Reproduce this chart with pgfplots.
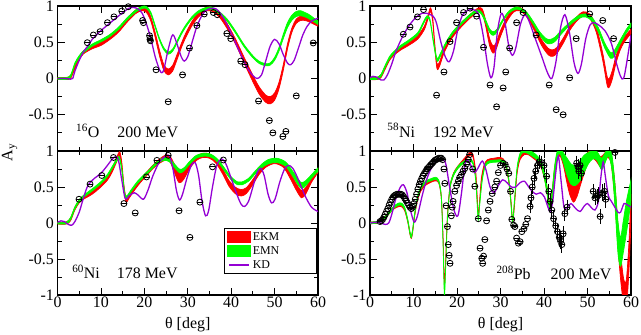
\documentclass[border=0pt]{standalone}
\usepackage{fontspec}
\setmainfont{Liberation Serif}
\usepackage{pgfplots}
\usepackage{pgfplotstable}
\pgfplotsset{compat=1.18}
\usepgfplotslibrary{fillbetween}

\definecolor{kdviolet}{rgb}{0.58,0,0.83}
\definecolor{ekmred}{rgb}{1,0,0}
\definecolor{emngreen}{rgb}{0,1,0}

% circle with a bar through it, like the grace symbols
\pgfdeclareplotmark{ominus}{%
  \pgfpathcircle{\pgfpointorigin}{\pgfplotmarksize}%
  \pgfusepathqstroke
  \pgfpathmoveto{\pgfpoint{-\pgfplotmarksize}{0pt}}%
  \pgfpathlineto{\pgfpoint{\pgfplotmarksize}{0pt}}%
  \pgfusepathqstroke}

\tikzset{lbl/.style={anchor=base west, font=\fontsize{16}{18}\selectfont}}

\pgfplotsset{
  panel/.style={scale only axis, width=261bp, height=145bp,
    xmin=0, xmax=60, ymin=-1, ymax=1,
    xtick={0,10,...,60}, minor xtick={5,15,...,55},
    ytick={-1,-0.5,0,0.5,1}, minor ytick={-0.75,-0.25,0.25,0.75},
    tick align=inside, tick pos=both,
    major tick length=7bp, minor tick length=4bp,
    axis line style={line width=1.2bp},
    every tick/.append style={line width=0.8bp, black},
    tick label style={font=\fontsize{16}{18}\selectfont},
    xticklabel style={inner sep=1.5bp}, yticklabel style={inner sep=3.5bp},
    /pgf/number format/assume math mode=true},
  kd/.style={kdviolet, line width=1.3bp, smooth},
  pts/.style={only marks, mark=ominus, mark size=3bp,
    mark options={line width=0.8bp, black}},
}

\newcommand{\band}[3]{%
  \addplot[draw=none, smooth, name path=#3u, forget plot]
    table[x=x, y expr=\thisrow{c}+\thisrow{w}] {#1};
  \addplot[draw=none, smooth, name path=#3l, forget plot]
    table[x=x, y expr=\thisrow{c}-\thisrow{w}] {#1};
  \addplot[fill=#2, draw=#2, line width=0.7bp,
    legend image code/.code={\fill[#2] (0bp,-5.5bp) rectangle (23bp,5.5bp);}]
    fill between[of=#3u and #3l];
}

% ---------- 16O ----------
\pgfplotstableread{
x c w
0 0 0.015
2 0 0.015
3 0.02 0.02
4 0.15 0.02
5 0.28 0.02
6 0.36 0.02
8 0.43 0.02
10 0.48 0.025
12 0.56 0.025
14 0.66 0.025
16 0.8 0.025
18 0.92 0.025
19.5 0.96 0.025
20.5 0.94 0.03
21.5 0.82 0.03
22.5 0.6 0.035
23.5 0.35 0.04
24.5 0.15 0.04
25.5 0.09 0.04
26.5 0.14 0.04
27.5 0.29 0.035
28.5 0.45 0.03
29.5 0.59 0.03
31 0.76 0.03
32.5 0.88 0.03
34 0.95 0.025
35 0.96 0.025
36 0.94 0.025
37.5 0.86 0.03
39 0.73 0.035
41 0.51 0.035
43 0.25 0.04
45 0.0 0.045
46.5 -0.17 0.05
48 -0.28 0.05
49 -0.3 0.05
50 -0.25 0.05
51 -0.1 0.045
52 0.15 0.04
53 0.45 0.035
54 0.67 0.03
55 0.79 0.03
56 0.83 0.03
57 0.83 0.03
58 0.81 0.03
59 0.78 0.03
60 0.75 0.03
}\oRed
\pgfplotstableread{
x c w
0 0 0.012
2 0 0.012
3 0.03 0.015
4 0.2 0.015
5 0.3 0.015
6 0.37 0.015
8 0.46 0.015
10 0.52 0.015
12 0.59 0.015
14 0.69 0.015
16 0.82 0.015
18 0.93 0.015
19.5 0.98 0.015
20.5 0.98 0.015
21.5 0.9 0.015
22.5 0.72 0.015
23.5 0.54 0.015
24.5 0.41 0.015
25.5 0.35 0.015
26.5 0.39 0.015
27.5 0.5 0.015
28.5 0.62 0.015
29.5 0.72 0.015
31 0.84 0.015
32.5 0.92 0.015
34 0.96 0.015
35.5 0.97 0.015
37 0.92 0.015
39 0.81 0.015
41 0.64 0.015
43 0.45 0.015
45 0.3 0.015
46.5 0.22 0.015
48 0.19 0.015
49 0.2 0.015
50 0.27 0.02
51 0.4 0.025
52 0.58 0.03
53 0.74 0.035
54 0.84 0.035
55 0.89 0.035
56 0.9 0.035
57 0.88 0.03
58 0.85 0.03
59 0.81 0.025
60 0.77 0.025
}\oGreen
\pgfplotstableread{
x y
0 0
2 0
3 -0.01
3.5 0
4 0.1
5 0.25
6 0.37
7 0.45
8 0.54
10 0.66
12 0.76
14 0.86
15.5 0.93
16.5 0.97
17.5 0.98
18.5 0.96
19.5 0.9
20.5 0.75
21.5 0.55
22.5 0.3
23.5 0.12
24 0.08
24.5 0.12
25.3 0.35
26.3 0.58
26.8 0.59
27.5 0.48
28.5 0.3
29.2 0.24
30 0.3
31 0.5
32 0.7
33 0.84
34 0.93
35.5 0.97
36.5 0.96
37.5 0.9
39 0.75
40.5 0.56
42 0.36
43.5 0.17
45 0.04
46 0.0
47 0.05
48 0.25
49 0.45
50 0.54
51 0.48
52 0.33
53 0.21
53.7 0.19
54.5 0.25
55.5 0.42
56.5 0.6
57.5 0.72
58.5 0.79
59.5 0.82
60 0.83
}\oKD
\pgfplotstableread{
x y
6.87 0.494
8.26 0.60
9.8 0.646
11.5 0.77
13.0 0.85
14.8 0.93
16.3 0.99
19.6 0.80
19.8 0.77
21.2 0.59
21.3 0.54
21.4 0.52
22.7 0.12
25.5 -0.32
28.8 0.05
30.4 0.42
32.1 0.73
33.8 0.89
35.9 0.91
36.8 0.88
39.0 0.62
39.9 0.55
42.2 0.24
43.2 0.19
46.3 -0.31
48.8 -0.58
49.6 -0.75
51.9 -0.80
52.6 -0.73
55.0 -0.24
58.9 0.49
}\oExp

% ---------- 58Ni ----------
\pgfplotstableread{
x c w
0 0 0.015
1.5 0 0.015
2.5 0.03 0.02
3.5 0.15 0.02
4.5 0.27 0.02
5.5 0.34 0.02
7 0.41 0.02
9 0.48 0.02
11 0.57 0.025
12.5 0.7 0.025
13.3 0.84 0.025
13.9 0.95 0.025
14.4 0.82 0.03
14.9 0.45 0.03
15.4 0.17 0.035
16 0.2 0.03
17 0.38 0.03
18.5 0.55 0.025
20 0.67 0.025
22 0.8 0.025
24 0.91 0.025
25 0.95 0.025
25.8 0.93 0.03
26.6 0.76 0.04
27.5 0.5 0.05
28.3 0.4 0.05
29 0.45 0.045
30 0.62 0.04
31.5 0.82 0.03
33 0.94 0.025
34 0.96 0.025
35 0.94 0.025
36.5 0.84 0.03
38 0.67 0.035
39.5 0.49 0.04
41 0.37 0.045
42 0.35 0.045
43 0.39 0.04
44.5 0.53 0.035
46 0.7 0.03
47.5 0.82 0.03
49 0.89 0.03
50.5 0.86 0.03
52 0.68 0.04
53.5 0.3 0.05
54.5 -0.03 0.06
55 -0.06 0.06
55.7 0.05 0.06
56.5 0.25 0.05
57.5 0.43 0.04
58.5 0.54 0.035
60 0.65 0.03
}\nRed
\pgfplotstableread{
x c w
0 0 0.012
1.5 0 0.012
2.5 0.04 0.015
3.5 0.17 0.015
4.5 0.29 0.015
5.5 0.36 0.015
7 0.44 0.015
9 0.52 0.015
11 0.62 0.015
12.3 0.77 0.015
13.1 0.85 0.015
13.8 0.8 0.015
14.6 0.5 0.02
15.4 0.26 0.02
16.2 0.33 0.02
17.5 0.49 0.015
19 0.63 0.015
21 0.76 0.015
23 0.87 0.015
24.5 0.93 0.015
25.5 0.91 0.015
26.5 0.8 0.02
27.5 0.66 0.025
28.3 0.62 0.025
29.2 0.66 0.02
30.5 0.8 0.015
32 0.92 0.015
33.5 0.97 0.015
34.5 0.96 0.015
36 0.9 0.015
37.5 0.77 0.02
39 0.62 0.025
40.5 0.52 0.03
41.5 0.51 0.03
42.5 0.54 0.03
44 0.64 0.025
46 0.76 0.02
48 0.85 0.02
49.5 0.87 0.02
51 0.82 0.025
52.5 0.67 0.03
54 0.45 0.035
55.3 0.32 0.04
56.2 0.35 0.04
57.5 0.5 0.03
59 0.66 0.025
60 0.74 0.025
}\nGreen
\pgfplotstableread{
x y
0 0.01
0.7 0.03
1.5 0.02
2.5 -0.02
3.2 -0.02
4 0.05
5 0.2
6 0.38
7.5 0.58
9 0.73
10.5 0.84
12 0.9
13 0.9
14.5 0.86
15.3 0.76
16.3 0.5
17.3 0.3
18.2 0.23
19.2 0.38
20.2 0.68
21.3 0.88
22.5 0.94
23.8 0.95
25 0.88
26 0.6
27 0.2
27.8 0.01
28.5 0.15
29.3 0.65
30.2 0.9
31 0.78
31.9 0.45
32.7 0.32
33.5 0.42
34.6 0.75
35.6 0.88
36.5 0.8
38 0.55
39.5 0.3
40.8 0.08
41.8 0.0
42.8 0.25
43.8 0.7
44.8 0.88
45.8 0.65
46.9 0.22
47.8 0.07
48.6 0.2
49.6 0.55
50.6 0.74
51.5 0.77
52.5 0.74
54 0.66
55.5 0.48
56.7 0.2
57.6 0.03
58.3 0.0
59.1 0.25
60 0.6
}\nKD
\pgfplotstableread{
x y
7.66 0.61
9.2 0.71
10.9 0.85
12.3 0.95
15.3 -0.23
17.0 0.09
18.4 0.51
19.9 0.77
21.5 0.91
23.0 0.97
24.5 0.86
26.1 0.43
27.6 -0.09
29.1 -0.39
30.6 -0.13
31.2 0.09
32.1 0.42
33.7 0.77
35.2 0.91
38.2 0.60
41.2 -0.09
42.8 -0.43
44.4 -0.50
45.9 0.01
47.4 0.55
50.5 0.89
53.5 0.80
56.0 0.55
}\nExp

% ---------- 60Ni ----------
\pgfplotstableread{
x c w
0 0 0.015
2 0 0.015
3 0.05 0.02
4 0.2 0.02
5 0.3 0.02
6 0.35 0.02
8 0.42 0.02
10 0.52 0.02
11.5 0.62 0.025
12.5 0.72 0.025
13.5 0.86 0.03
14.3 0.96 0.03
14.8 0.82 0.03
15.3 0.5 0.03
15.8 0.32 0.03
16.4 0.36 0.025
17.5 0.46 0.025
19 0.58 0.025
20.5 0.68 0.025
22 0.78 0.025
23.5 0.86 0.03
25 0.91 0.035
26 0.88 0.04
27 0.75 0.06
28 0.63 0.07
29 0.66 0.06
30.5 0.8 0.04
32 0.9 0.03
33.5 0.94 0.03
35 0.93 0.03
36.5 0.86 0.03
38 0.72 0.035
39.5 0.55 0.04
41 0.45 0.045
42.3 0.42 0.045
43.5 0.45 0.04
45 0.57 0.035
46.5 0.71 0.03
48 0.81 0.035
50 0.86 0.035
52 0.81 0.035
53.5 0.67 0.04
55 0.5 0.045
56.2 0.4 0.05
57.2 0.45 0.045
58.5 0.6 0.035
60 0.73 0.03
}\mRed
\pgfplotstableread{
x c w
0 0 0.012
2 0 0.012
3 0.06 0.015
4 0.21 0.015
5 0.31 0.015
6 0.37 0.015
8 0.46 0.015
10 0.56 0.015
11.5 0.66 0.015
12.5 0.76 0.015
13.5 0.86 0.015
14.2 0.91 0.015
14.8 0.75 0.02
15.5 0.4 0.02
16 0.36 0.02
17 0.45 0.015
18.5 0.57 0.015
20 0.66 0.015
21.5 0.75 0.015
23 0.84 0.015
24.5 0.89 0.02
25.8 0.87 0.02
27 0.79 0.025
28.2 0.72 0.025
29.2 0.75 0.02
30.5 0.84 0.02
32 0.92 0.02
34 0.95 0.02
35.5 0.93 0.02
37 0.86 0.02
38.5 0.74 0.02
40 0.62 0.02
41.5 0.55 0.02
42.5 0.55 0.02
44 0.6 0.02
45.5 0.7 0.02
47 0.79 0.025
48.5 0.85 0.03
50.5 0.87 0.03
52.5 0.82 0.03
54 0.7 0.035
55.5 0.56 0.04
56.3 0.52 0.04
57.3 0.56 0.035
58.7 0.66 0.025
60 0.74 0.025
}\mGreen
\pgfplotstableread{
x y
0 0.01
0.8 0.03
1.6 0.02
2.5 -0.02
3.3 -0.03
4 0.02
5 0.15
6 0.35
7 0.52
8.5 0.62
10 0.69
11.5 0.8
12.5 0.88
13.3 0.92
14 0.88
14.8 0.6
15.6 0.34
16.5 0.38
17.7 0.42
18.7 0.38
19.8 0.33
20.8 0.45
22 0.66
23.5 0.85
25 0.93
25.8 0.93
26.6 0.75
27.4 0.45
28.1 0.32
28.8 0.4
29.8 0.62
30.8 0.8
31.7 0.84
32.5 0.66
33.3 0.3
34.1 0.1
34.8 0.17
35.7 0.5
36.7 0.8
37.8 0.89
38.8 0.82
40 0.62
41.3 0.4
42.3 0.26
43.1 0.23
44 0.3
45 0.5
46 0.7
46.8 0.76
47.6 0.66
48.5 0.4
49.3 0.28
50.1 0.33
51.2 0.57
52.3 0.75
53.2 0.8
54.2 0.76
55.5 0.6
57 0.38
58.5 0.22
60 0.16
}\mKD
\pgfplotstableread{
x y
4.95 0.33
7.5 0.54
10.2 0.66
12.9 0.91
15.3 0.27
17.9 0.14
20.5 0.64
22.9 0.87
25.5 0.94
28.0 0.17
30.5 -0.20
32.8 0.29
35.7 0.78
38.2 0.875
}\mExp

% ---------- 208Pb ----------
\pgfplotstableread{
x c w
0 0 0.012
1.5 0.01 0.012
2.5 0.03 0.015
3.5 0.08 0.015
4.5 0.15 0.015
5.5 0.21 0.015
6.5 0.24 0.015
7.3 0.24 0.015
8 0.18 0.015
8.7 0.02 0.015
9.2 -0.15 0.015
9.5 -0.2 0.015
9.8 -0.12 0.015
10.3 0.12 0.015
11 0.35 0.015
11.8 0.47 0.015
12.8 0.54 0.015
14 0.58 0.015
15 0.6 0.015
15.8 0.57 0.015
16.4 0.35 0.015
16.8 -0.2 0.015
17.1 -0.85 0.015
17.4 -0.5 0.015
17.8 0.1 0.015
18.4 0.5 0.015
19.2 0.68 0.015
20 0.76 0.015
21 0.83 0.02
22 0.9 0.02
23 0.96 0.02
23.7 0.93 0.02
24.3 0.7 0.02
24.6 0.4 0.02
24.9 0.1 0.02
25.2 0.3 0.02
25.6 0.6 0.02
26.2 0.78 0.02
27 0.86 0.02
28.5 0.88 0.02
30 0.89 0.02
31 0.84 0.02
31.8 0.63 0.02
32.4 0.3 0.02
32.8 0.03 0.02
33.2 0.25 0.02
33.8 0.7 0.02
34.5 0.9 0.02
35.5 0.97 0.02
36.5 0.97 0.025
37.5 0.93 0.03
38.5 0.88 0.03
39.5 0.78 0.035
40.3 0.6 0.04
40.9 0.38 0.05
41.4 0.22 0.05
41.8 0.35 0.05
42.4 0.7 0.05
43 0.92 0.04
43.7 0.97 0.04
44.5 0.85 0.06
45.3 0.65 0.1
46 0.5 0.12
46.8 0.42 0.13
47.6 0.5 0.13
48.4 0.65 0.12
49.3 0.8 0.1
50.2 0.92 0.07
51 0.96 0.05
52 0.92 0.06
53 0.85 0.07
53.8 0.9 0.06
54.6 0.96 0.05
55.4 0.9 0.07
56.2 0.5 0.12
56.9 -0.1 0.15
57.6 -0.6 0.18
58.3 -0.95 0.18
58.9 -1.0 0.2
59.5 -0.5 0.2
60 0.2 0.2
}\pRed
\pgfplotstableread{
x c w
0 0 0.012
1.5 0.01 0.012
2.5 0.03 0.015
3.5 0.08 0.015
4.5 0.15 0.015
5.5 0.22 0.015
6.5 0.26 0.015
7.3 0.26 0.015
8 0.2 0.015
8.7 0.03 0.015
9.2 -0.14 0.015
9.5 -0.19 0.015
9.8 -0.1 0.015
10.3 0.14 0.015
11 0.38 0.015
11.8 0.5 0.015
12.8 0.57 0.015
14 0.6 0.015
15 0.62 0.015
15.8 0.58 0.015
16.4 0.35 0.015
16.8 -0.3 0.015
17.1 -1.0 0.015
17.4 -0.6 0.015
17.8 0.05 0.015
18.4 0.5 0.015
19.2 0.67 0.015
20.3 0.78 0.015
21 0.82 0.015
22 0.86 0.015
23 0.87 0.015
23.7 0.83 0.015
24.3 0.6 0.015
24.7 0.2 0.015
24.9 0.05 0.015
25.2 0.25 0.015
25.8 0.6 0.015
26.5 0.8 0.015
27.5 0.85 0.015
29 0.86 0.015
30.5 0.86 0.015
31.3 0.8 0.015
32 0.55 0.015
32.5 0.2 0.015
32.8 0.02 0.015
33.2 0.3 0.015
33.8 0.75 0.02
34.5 0.95 0.02
35.3 1.0 0.02
36.3 0.99 0.025
37.5 0.95 0.03
38.5 0.9 0.03
39.5 0.8 0.04
40.3 0.6 0.05
40.9 0.38 0.05
41.4 0.2 0.04
41.8 0.35 0.05
42.4 0.72 0.05
43 0.95 0.04
43.7 1.0 0.04
44.5 0.9 0.07
45.3 0.78 0.12
46.2 0.68 0.14
47.2 0.66 0.14
48.2 0.72 0.14
49.2 0.82 0.12
50.2 0.9 0.08
51.2 0.95 0.06
52.2 0.93 0.06
53.2 0.82 0.08
54 0.9 0.07
54.8 0.98 0.05
55.6 0.85 0.1
56.3 0.4 0.15
57 -0.2 0.22
57.6 -0.4 0.2
58.2 -0.2 0.22
59 0.1 0.22
60 0.45 0.15
}\pGreen
\pgfplotstableread{
x y
0 0
1.5 0.01
2.5 0.0
3.5 -0.02
4.3 0.0
5 0.12
6 0.35
7 0.5
7.7 0.53
8.5 0.42
9.3 0.18
10 0.03
10.4 0.02
11 0.12
12 0.38
13 0.6
14 0.75
15 0.84
16 0.87
17 0.87
17.5 0.8
18.3 0.5
19.3 0.18
20.2 0.1
21 0.4
21.8 0.8
22.4 0.88
23.2 0.8
24 0.7
24.8 0.76
25.8 0.86
26.6 0.75
27.6 0.5
28.5 0.42
29.5 0.52
30.5 0.6
31.5 0.56
32.5 0.5
33.5 0.5
34.5 0.56
35.5 0.58
36.5 0.5
37.3 0.44
38.2 0.4
39.2 0.42
40.1 0.36
40.8 0.24
41.4 0.16
42 0.3
42.7 0.7
43.3 0.93
43.9 0.6
44.6 0.22
45.3 0.22
46.2 0.27
47.3 0.2
48.3 0.16
49.3 0.24
50 0.27
50.8 0.22
51.7 0.18
52.5 0.3
53.1 0.65
53.6 0.85
54.1 0.65
54.8 0.38
55.5 0.3
56.3 0.22
57 0.15
57.6 0.15
58.4 0.27
59.2 0.25
60 0.22
}\pKD
% small-angle points: error bars hidden inside the symbol
\pgfplotstableread{
x y
2.3 0.02
2.6 0.03
2.9 0.05
3.2 0.08
3.5 0.12
3.8 0.16
4.1 0.2
4.4 0.25
4.7 0.29
5.0 0.33
5.3 0.36
5.6 0.38
5.9 0.39
6.2 0.4
6.5 0.4
6.8 0.4
7.1 0.4
7.4 0.39
7.7 0.37
8.0 0.34
8.3 0.31
8.6 0.28
8.9 0.25
9.2 0.22
9.5 0.2
9.8 0.22
10.1 0.27
10.4 0.33
10.7 0.4
11.0 0.47
11.3 0.53
11.6 0.58
11.9 0.62
12.2 0.66
12.5 0.69
12.8 0.72
13.1 0.75
13.4 0.77
13.7 0.79
14.0 0.81
14.3 0.83
14.6 0.85
14.9 0.87
15.2 0.88
15.5 0.89
15.8 0.9
16.1 0.9
16.4 0.9
16.7 0.88
17.0 0.75
17.2 0.55
17.5 0.24
17.8 -0.05
18.0 -0.3
18.2 -0.45
18.4 -0.56
18.7 0.1
18.9 0.22
19.1 0.3
19.5 0.44
19.9 0.52
20.3 0.58
20.6 0.63
21.0 0.67
21.4 0.72
21.8 0.76
22.2 0.82
22.6 0.88
22.9 0.95
23.6 0.75
24.1 0.51
24.9 0.06
25.3 -0.35
25.7 -0.49
25.9 -0.56
26.1 -0.46
26.4 -0.23
26.8 0.03
27.2 0.18
27.6 0.3
28.1 0.41
28.7 0.5
29.1 0.58
29.5 0.7
30.0 0.8
30.6 0.83
31.1 0.81
31.5 0.75
31.9 0.69
32.3 0.44
32.6 0.05
33.0 -0.03
33.3 -0.05
33.7 -0.21
34.1 -0.28
34.5 -0.26
34.9 -0.12
35.4 -0.08
35.8 -0.02
36.2 0.06
}\pExpA
% larger angles: visible error bars
\pgfplotstableread{
x y e
36.8 0.23 0.06
37.0 0.35 0.06
37.3 0.5 0.06
37.7 0.62 0.06
38.1 0.72 0.06
38.5 0.8 0.06
38.9 0.85 0.06
39.4 0.84 0.06
40.0 0.8 0.06
40.6 0.65 0.06
41.1 0.44 0.07
41.4 0.3 0.07
41.8 0.18 0.07
42.2 0.06 0.07
42.7 -0.04 0.07
43.1 -0.12 0.07
43.5 -0.2 0.08
43.8 -0.25 0.08
44.1 -0.3 0.08
44.4 -0.15 0.07
44.8 0.13 0.07
45.3 0.22 0.07
47.5 0.83 0.07
47.8 0.78 0.07
48.0 0.72 0.07
48.3 0.8 0.07
48.6 0.69 0.07
51.3 0.44 0.07
51.7 0.35 0.07
52.2 0.37 0.07
52.6 0.39 0.07
52.9 0.09 0.07
53.5 0.42 0.08
53.9 0.44 0.08
54.2 0.33 0.08
56.3 0.98 0.06
}\pExpB

\begin{document}
\begin{tikzpicture}

% top left: 16O
\begin{axis}[panel, at={(57.5bp,184bp)}, anchor=south west, width=260.5bp,
  xticklabels={}, yticklabels={,-0.5,0,0.5,1}]
\band{\oRed}{ekmred}{ored}
\band{\oGreen}{emngreen}{ogreen}
\addplot[kd] table {\oKD};
\addplot[pts] table {\oExp};
\node[lbl] at (axis cs:3.5,-0.82) {\textsuperscript{16}O\hspace{18bp}200 MeV};
\end{axis}

% top right: 58Ni
\begin{axis}[panel, at={(370bp,184bp)}, anchor=south west,
  xticklabels={}, yticklabels={,-0.5,0,0.5,1}]
\band{\nRed}{ekmred}{nred}
\band{\nGreen}{emngreen}{ngreen}
\addplot[kd] table {\nKD};
\addplot[pts] table {\nExp};
\node[lbl] at (axis cs:3.2,-0.81) {\textsuperscript{58}Ni\hspace{18bp}192 MeV};
\end{axis}

% bottom left: 60Ni
\begin{axis}[panel, at={(57.5bp,40bp)}, anchor=south west, width=260.5bp, height=144bp,
  xticklabels={0,10,20,30,40,50,60}, yticklabels={-1,-0.5,0,0.5,1},
  xlabel={θ [deg]},
  xlabel style={at={(axis description cs:0.5,0)}, anchor=base, yshift=-33bp,
    font=\fontsize{16}{18}\selectfont},
  legend cell align=left,
  legend style={at={(0.996,0.465)}, anchor=north east, draw=black,
    line width=1.2bp, fill=white, font=\fontsize{12}{14}\selectfont,
    inner xsep=3bp, inner ysep=2bp, row sep=0.5bp,
    /tikz/every even column/.append style={column sep=12bp}}]
\band{\mRed}{ekmred}{mred}
\addlegendentry{EKM\hspace*{32bp}}
\band{\mGreen}{emngreen}{mgreen}
\addlegendentry{EMN}
\addplot[kd, legend image code/.code={\draw[kdviolet, line width=1.3bp] (2bp,0bp) -- (22bp,0bp);}] table {\mKD};
\addlegendentry{KD}
\addplot[pts, forget plot] table {\mExp};
\node[lbl] at (axis cs:2.6,-0.77) {\textsuperscript{60}Ni\hspace{17bp}178 MeV};
\end{axis}

% bottom right: 208Pb
\begin{axis}[panel, at={(370bp,40bp)}, anchor=south west, height=144bp,
  xticklabels={0,10,20,30,40,50,60}, yticklabels={-1,-0.5,0,0.5,1},
  xlabel={θ [deg]},
  xlabel style={at={(axis description cs:0.5,0)}, anchor=base, yshift=-33bp,
    font=\fontsize{16}{18}\selectfont}]
\band{\pRed}{ekmred}{pred}
\band{\pGreen}{emngreen}{pgreen}
\addplot[kd] table {\pKD};
\addplot[pts] table {\pExpA};
\addplot[pts, error bars/.cd, y dir=both, y explicit,
  error bar style={line width=0.8bp, black},
  error mark options={mark size=2.5bp, line width=0.8bp, black}]
  table[x=x, y=y, y error=e] {\pExpB};
\node[lbl] at (axis cs:28.3,-0.79) {\textsuperscript{208}Pb\hspace{20bp}200 MeV};
\end{axis}

\node[rotate=90, font=\fontsize{16}{18}\selectfont] at (9.5bp,182.5bp) {A\textsubscript{y}};
\pgfresetboundingbox
\useasboundingbox (0,0) rectangle (641bp,335bp);
\end{tikzpicture}
\end{document}
